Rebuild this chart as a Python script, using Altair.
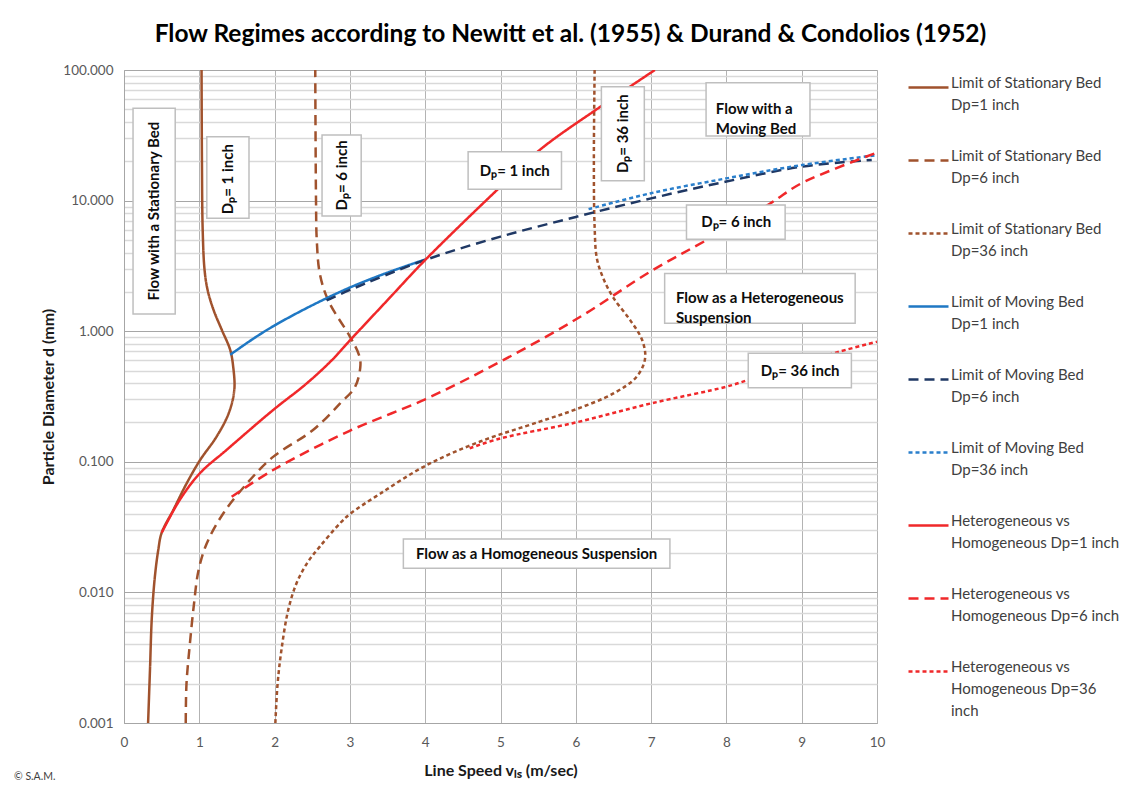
import altair as alt
import pandas as pd

# ---------------- data ----------------
series_names = [
    "Limit of Stationary Bed|Dp=1 inch",
    "Limit of Stationary Bed|Dp=6 inch",
    "Limit of Stationary Bed|Dp=36 inch",
    "Limit of Moving Bed|Dp=1 inch",
    "Limit of Moving Bed|Dp=6 inch",
    "Limit of Moving Bed|Dp=36 inch",
    "Heterogeneous vs|Homogeneous Dp=1 inch",
    "Heterogeneous vs|Homogeneous Dp=6 inch",
    "Heterogeneous vs|Homogeneous Dp=36|inch",
]
series_colors = ["#A0522D", "#A0522D", "#A0522D", "#1F78C4", "#1F3864", "#2A7FCC",
                 "#F0282A", "#F0282A", "#F0282A"]
series_dashes = [[1, 0], [10, 6], [4, 3], [1, 0], [10, 6], [4, 3], [1, 0], [10, 6], [4, 3]]

# Limit of Stationary Bed Dp=1 inch
sb1_v = [0.32, 0.345, 0.37, 0.41, 0.455, 0.50, 0.655, 0.83, 1.01, 1.23, 1.39, 1.465, 1.45,
         1.41, 1.30, 1.19, 1.11, 1.07, 1.045, 1.035, 1.03]
sb1_d = [0.001, 0.00255, 0.0065, 0.0132, 0.0211, 0.0286, 0.0428, 0.068, 0.103, 0.156, 0.235,
         0.355, 0.535, 0.72, 1.02, 1.45, 2.07, 2.94, 5.96, 20.5, 100]
# Limit of Stationary Bed Dp=6 inch
sb6_v = [0.82, 0.83, 0.876, 0.93, 0.99, 1.10, 1.32, 1.63, 1.98, 2.51, 2.87, 3.07, 3.14,
         3.12, 3.0, 2.71, 2.60, 2.56, 2.55, 2.54]
sb6_d = [0.001, 0.002, 0.0041, 0.0082, 0.0148, 0.0238, 0.0404, 0.068, 0.109, 0.175, 0.28,
         0.376, 0.55, 0.66, 0.91, 1.73, 2.77, 4.99, 10.0, 100]
# Limit of Stationary Bed Dp=36 inch
sb36_v = [2.01, 2.04, 2.09, 2.18, 2.29, 2.43, 2.60, 2.87, 3.0, 3.40, 4.0, 4.73, 5.52, 6.0,
          6.50, 6.81, 6.92, 6.88, 6.72, 6.50, 6.37, 6.28, 6.25, 6.24, 6.25]
sb36_d = [0.001, 0.002, 0.0036, 0.0073, 0.0117, 0.0167, 0.0224, 0.0339, 0.0398, 0.0569,
          0.093, 0.143, 0.203, 0.252, 0.334, 0.449, 0.62, 0.86, 1.22, 1.8, 2.5, 3.6, 6.3,
          20.0, 100]
# Limit of Moving Bed Dp=1 inch
mb1_v = [1.41, 1.70, 2.0, 2.5, 3.0, 3.5, 4.0]
mb1_d = [0.66, 0.863, 1.107, 1.58, 2.16, 2.81, 3.54]
# Limit of Moving Bed Dp=6 inch
mb6_v = [2.69, 3.0, 4.0, 5.0, 6.0, 7.0, 8.0, 9.0, 9.93]
mb6_d = [1.72, 2.07, 3.51, 5.3, 7.5, 10.4, 14.0, 18.2, 20.5]
# Limit of Moving Bed Dp=36 inch
mb36_v = [6.17, 7.0, 8.0, 9.0, 10.0]
mb36_d = [8.6, 11.4, 14.8, 18.7, 22.3]
# Heterogeneous vs Homogeneous Dp=1 inch
hh1_v = [0.50, 0.74, 1.01, 1.36, 1.98, 2.43, 2.76, 3.0, 3.5, 4.0, 4.95, 5.52, 6.32, 7.05]
hh1_d = [0.0286, 0.051, 0.082, 0.123, 0.249, 0.40, 0.60, 0.85, 1.73, 3.51, 12.0, 24.4, 52.0, 100]
# Heterogeneous vs Homogeneous Dp=6 inch
hh6_v = [1.43, 1.98, 2.99, 4.0, 5.0, 6.06, 6.99, 7.74, 8.58, 9.0, 10.0]
hh6_d = [0.054, 0.0865, 0.172, 0.301, 0.585, 1.29, 2.86, 5.0, 9.5, 13.6, 23.3]
# Heterogeneous vs Homogeneous Dp=36 inch
hh36_v = [4.59, 5.0, 6.0, 7.0, 8.0, 8.27, 9.0, 9.51, 10.0]
hh36_d = [0.127, 0.151, 0.20, 0.28, 0.376, 0.42, 0.57, 0.70, 0.83]

series_v = [sb1_v, sb6_v, sb36_v, mb1_v, mb6_v, mb36_v, hh1_v, hh6_v, hh36_v]
series_d = [sb1_d, sb6_d, sb36_d, mb1_d, mb6_d, mb36_d, hh1_d, hh6_d, hh36_d]

# annotation labels (centred)
ann_text = ["Flow with a Stationary Bed", "Dₚ= 1 inch", "Dₚ= 6 inch", "Dₚ= 1 inch",
            "Dₚ= 36 inch", "Dₚ= 6 inch", "Dₚ= 36 inch", "Flow as a Homogeneous Suspension"]
ann_v = [0.40, 1.385, 2.89, 5.19, 6.63, 8.13, 8.98, 5.48]
ann_d = [8.3, 14.6, 15.6, 17.0, 32.5, 6.86, 0.50, 0.0197]
ann_angle = [270, 270, 270, 0, 270, 0, 0, 0]
# annotation labels (left aligned, two lines)
annl_text = ["Flow with a|Moving Bed", "Flow as a Heterogeneous|Suspension"]
annl_v = [7.86, 7.33]
annl_d = [50.0, 1.79]
# annotation boxes
box_v1 = [0.12, 1.10, 2.63, 4.57, 6.34, 7.73, 7.47, 7.18, 8.29, 3.71]
box_v2 = [0.68, 1.66, 3.15, 5.81, 6.91, 9.11, 8.78, 9.71, 9.66, 7.25]
box_d1 = [1.355, 7.31, 7.62, 12.2, 14.2, 31.3, 5.06, 1.15, 0.369, 0.0153]
box_d2 = [50.9, 30.8, 31.8, 23.7, 74.5, 80.0, 9.25, 2.77, 0.678, 0.02565]

x_ticks = [0, 1, 2, 3, 4, 5, 6, 7, 8, 9, 10]
y_ticks = [round(m * 10 ** k, 6) for k in range(-3, 2) for m in range(1, 10)] + [100]

# ---------------- build tables ----------------
rows = []
for name, vs, ds in zip(series_names, series_v, series_d):
    for i, (v, d) in enumerate(zip(vs, ds)):
        rows.append({"series": name, "i": i, "v": v, "d": d})
lines_df = pd.DataFrame(rows)
ann_df = pd.DataFrame({"t": ann_text, "v": ann_v, "d": ann_d, "ang": ann_angle})
annl_df = pd.DataFrame({"t": annl_text, "v": annl_v, "d": annl_d})
box_df = pd.DataFrame({"v": box_v1, "v2": box_v2, "d": box_d1, "d2": box_d2})
copy_df = pd.DataFrame({"t": ["© S.A.M."]})

FONT = "Lato"
is_major = "abs(log(datum.value)/LN10 - round(log(datum.value)/LN10)) < 0.001"

x_scale = alt.Scale(domain=[0, 10], nice=False, zero=False)
y_scale = alt.Scale(type="log", domain=[0.001, 100], nice=False)
x_axis = alt.Axis(values=x_ticks, ticks=False, labelFlush=False, labelPadding=12,
                  labelFontSize=13.5, labelColor="#595959", gridColor="#b3b3b3",
                  domainColor="#a6a6a6", titleFontSize=16, titleFontWeight="bold",
                  titleColor="#1a1a1a", titlePadding=14)
y_axis = alt.Axis(values=y_ticks, ticks=False, labelOverlap=False, labelPadding=11,
                  labelExpr=f"{is_major} ? format(datum.value, '.3f') : ''",
                  labelFontSize=13.5, labelColor="#595959",
                  gridColor={"condition": {"test": is_major, "value": "#a6a6a6"}, "value": "#d9d9d9"},
                  gridWidth={"condition": {"test": is_major, "value": 1}, "value": 1.4},
                  domainColor="#a6a6a6", titleFontSize=16, titleFontWeight="bold",
                  titleColor="#1a1a1a", titlePadding=6)
X_TITLE = "Line Speed vₗₛ (m/sec)"
Y_TITLE = "Particle Diameter d (mm)"


def X(field):
    return alt.X(field, type="quantitative", scale=x_scale, axis=x_axis, title=X_TITLE)


def Y(field):
    return alt.Y(field, type="quantitative", scale=y_scale, axis=y_axis, title=Y_TITLE)


leg = alt.Legend(title=None, orient="none", legendX=783, legendY=-4, symbolType="stroke",
                 symbolSize=1600, symbolStrokeWidth=2.5, labelExpr="split(datum.label, '|')",
                 labelFontSize=15, labelFont=FONT, labelColor="#404040",
                 labelBaseline="alphabetic", labelLimit=400, rowPadding=26, labelOffset=1,
                 padding=0)

lines = alt.Chart(lines_df).mark_line(strokeWidth=2.5, interpolate="catmull-rom", clip=True).encode(
    x=X("v"), y=Y("d"),
    color=alt.Color("series:N", scale=alt.Scale(domain=series_names, range=series_colors),
                    legend=leg, sort=series_names),
    strokeDash=alt.StrokeDash("series:N", scale=alt.Scale(domain=series_names, range=series_dashes),
                              legend=leg, sort=series_names),
    order=alt.Order("i:Q"),
)

boxes = alt.Chart(box_df).mark_rect(fill="white", stroke="#bfbfbf", strokeWidth=1.5).encode(
    x=X("v"), x2="v2", y=Y("d"), y2="d2")

texts_c = alt.Chart(ann_df).mark_text(font=FONT, fontWeight="bold", fontSize=15,
                                       color="#0d0d0d", align="center", baseline="middle").encode(
    x=X("v"), y=Y("d"), text="t:N", angle=alt.Angle("ang:Q", scale=None))

texts_l = alt.Chart(annl_df).mark_text(font=FONT, fontWeight="bold", fontSize=15, color="#0d0d0d",
                                        align="left", baseline="middle", lineBreak="|",
                                        lineHeight=20).encode(
    x=X("v"), y=Y("d"), text="t:N")

copyright_txt = alt.Chart(copy_df).mark_text(font=FONT, fontSize=10.5, color="#404040", align="left",
                                              baseline="alphabetic").encode(
    text="t:N", x=alt.value(-110), y=alt.value(710))

chart = alt.layer(lines, boxes, texts_c, texts_l, copyright_txt).properties(
    width=753, height=653,
    title=alt.TitleParams(
        text="Flow Regimes according to Newitt et al. (1955) & Durand & Condolios (1952)",
        fontSize=24.5, font=FONT, fontWeight="bold", color="#000000", anchor="middle",
        frame="group", dx=70, offset=16),
    padding={"left": 116, "top": 62, "right": 243, "bottom": 58},
    autosize=alt.AutoSizeParams(type="none"),
).configure_view(stroke="#a6a6a6", strokeWidth=1).configure(
    font=FONT, style={"guide-label": {"lineHeight": 22}})

chart.save("out.html", embed_options={"renderer": "svg", "actions": False})
